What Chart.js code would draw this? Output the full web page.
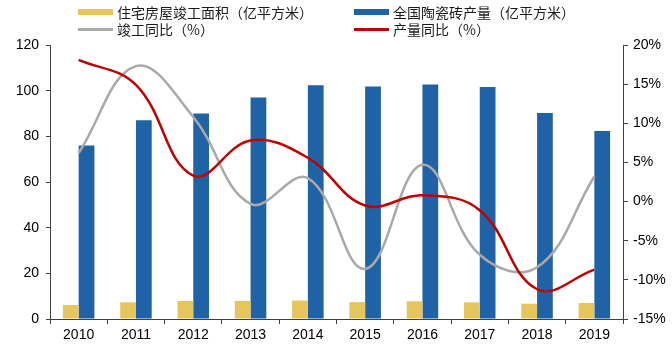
<!DOCTYPE html>
<html><head><meta charset="utf-8">
<script src="https://cdn.jsdelivr.net/npm/chart.js@4/dist/chart.umd.min.js"></script>
<style>
html,body{margin:0;padding:0;background:#fff;}
#wrap{position:relative;width:672px;height:346px;overflow:hidden;}
#c{position:absolute;left:0;top:0;}
.lg{position:absolute;font-family:"Noto Sans CJK SC";font-size:14px;color:#1a1a1a;line-height:16px;white-space:nowrap;}
.sw{position:absolute;}
</style></head><body>
<div id="wrap"><canvas id="c" width="672" height="346"></canvas>
<div id="legend"></div></div>
<script>
const years = ['2010','2011','2012','2013','2014','2015','2016','2017','2018','2019'];
const completionArea = [6.1, 7.3, 7.9, 7.9, 8.1, 7.4, 7.8, 7.3, 6.7, 7.0];
const tileOutput = [76, 87, 90, 97, 102.4, 101.8, 102.7, 101.6, 90.2, 82.3];
const completionYoY = [6.2, 17.3, 10.8, -0.3, 3.0, -8.6, 4.7, -6.8, -8.4, 3.2];
const outputYoY = [18.1, 14.9, 3.3, 7.8, 5.6, -0.5, 0.8, -1.1, -11.2, -8.7];
const seriesNames = ['住宅房屋竣工面积（亿平方米）','全国陶瓷砖产量（亿平方米）','竣工同比（%）','产量同比（%）'];

const C_YEL = '#E6C65C', C_BLUE = '#1F63A6', C_GRAY = '#A9A9A9', C_RED = '#C00000';
const tickFont = {family:'"Liberation Sans", Arial, sans-serif', size:14};
const axisColor = '#404040';

// HTML legend
const lg = document.getElementById('legend');
const items = [
  {name:seriesNames[0], color:C_YEL, type:'box', x:78, tx:117, y:12},
  {name:seriesNames[1], color:C_BLUE, type:'box', x:354, tx:393, y:12},
  {name:seriesNames[2], color:C_GRAY, type:'line', x:78, tx:117, y:29},
  {name:seriesNames[3], color:C_RED, type:'line', x:354, tx:393, y:29}
];
items.forEach(it=>{
  const s = document.createElement('div');
  s.className='sw';
  s.style.left = it.x+'px';
  s.style.width='35px';
  s.style.background = it.color;
  if(it.type==='box'){ s.style.top=(it.y-3)+'px'; s.style.height='6px'; }
  else { s.style.top=(it.y-1)+'px'; s.style.height='2.5px'; }
  lg.appendChild(s);
  const t = document.createElement('div');
  t.className='lg';
  t.style.left=it.tx+'px';
  t.style.top=(it.y-8)+'px';
  t.textContent = it.name;
  lg.appendChild(t);
});

new Chart(document.getElementById('c'), {
  data: {
    labels: years,
    datasets: [
      {type:'bar', label:seriesNames[0], data:completionArea, backgroundColor:C_YEL, yAxisID:'y', order:2,
       categoryPercentage:0.55, barPercentage:1.0},
      {type:'bar', label:seriesNames[1], data:tileOutput, backgroundColor:C_BLUE, yAxisID:'y', order:2,
       categoryPercentage:0.55, barPercentage:1.0},
      {type:'line', label:seriesNames[2], data:completionYoY, borderColor:C_GRAY, borderWidth:2.5, pointRadius:0,
       tension:0.4, yAxisID:'y1', order:1, fill:false},
      {type:'line', label:seriesNames[3], data:outputYoY, borderColor:C_RED, borderWidth:2.5, pointRadius:0,
       tension:0.4, yAxisID:'y1', order:0, fill:false}
    ]
  },
  options: {
    responsive:false, animation:false, devicePixelRatio:1,
    layout:{padding:{top:45, left:0, right:0, bottom:0}},
    plugins:{legend:{display:false}, tooltip:{enabled:false}},
    scales:{
      x:{
        grid:{display:true, drawOnChartArea:false, tickLength:5, color:axisColor, offset:true},
        border:{color:axisColor, width:1},
        ticks:{font:tickFont, color:'#000', padding:3, maxRotation:0},
        afterFit(s){ s.height = 27; }
      },
      y:{
        position:'left', min:0, max:120,
        grid:{display:true, drawOnChartArea:false, tickLength:4, color:axisColor},
        border:{color:axisColor, width:1},
        ticks:{stepSize:20, font:tickFont, color:'#000', padding:7},
        afterFit(s){ s.width = 50; }
      },
      y1:{
        position:'right', min:-15, max:20,
        grid:{display:true, drawOnChartArea:false, tickLength:5, color:axisColor},
        border:{color:axisColor, width:1},
        ticks:{stepSize:5, font:tickFont, color:'#000', padding:5, callback:v=>v+'%'},
        afterFit(s){ s.width = 49; }
      }
    }
  }
});
</script>
</body></html>
